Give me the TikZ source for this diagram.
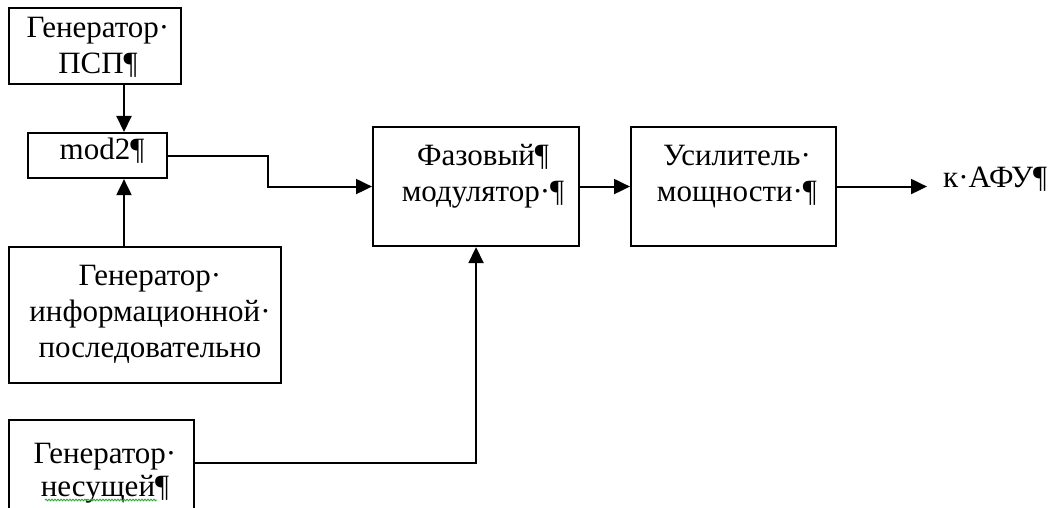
\documentclass[tikz,border=0pt]{standalone}
\usepackage{fontspec}
\setmainfont{Liberation Serif}
\usetikzlibrary{arrows.meta,decorations.pathmorphing}
\definecolor{spell}{RGB}{40,165,50}
\begin{document}
\begin{tikzpicture}[x=1pt,y=-1pt,
  blk/.style={draw, line width=2.1pt, inner sep=0pt, anchor=north west},
  lbl/.style={inner sep=0pt, anchor=base, align=center, font=\fontsize{31}{36}\selectfont},
  wire/.style={line width=2pt},
  arr/.style={wire, -{Triangle[length=16pt,width=15pt]}},
]
\useasboundingbox (0,0) rectangle (1053,508);

% blocks
\node[blk, minimum width=172pt, minimum height=76pt]  (psp)   at (8,7)    {};
\node[blk, minimum width=139pt, minimum height=45pt]  (mod)   at (27,132) {};
\node[blk, minimum width=272pt, minimum height=136pt] (info)  at (8,246)  {};
\node[blk, minimum width=185pt, minimum height=100pt] (carr)  at (8,419)  {};
\node[blk, minimum width=206pt, minimum height=119pt] (phase) at (372,126) {};
\node[blk, minimum width=205pt, minimum height=119pt] (amp)   at (630,126) {};

% labels (anchored on the baseline of their last line)
\node[lbl] (psp-t)   at (98,74)   {Генератор·\\ПСП¶};
\node[lbl] (mod-t)   at (102,160) {mod2¶};
\node[lbl] (info-t)  at (150,357) {Генератор·\\информационной·\\последовательно};
\node[lbl, font=\fontsize{31}{33}\selectfont] (carr-t) at (105,496) {Генератор·\\несущей¶};
\node[lbl] (phase-t) at (483,202) {Фазовый¶\\модулятор·¶};
\node[lbl] (amp-t)   at (737,202) {Усилитель·\\мощности·¶};
\node[lbl, anchor=base west] (afu) at (943,188) {к·АФУ¶};

% spell-check underline
\draw[spell, line width=0.9pt, decorate,
      decoration={snake, segment length=3pt, amplitude=0.8pt}] (45,500) -- (157,500);

% connections
\coordinate (bus) at (124,0);
\coordinate (jog) at (268,0);
\draw[arr] (psp.south -| bus) -- (mod.north -| bus);
\draw[arr] (info.north -| bus) -- (mod.south -| bus);
\draw[arr] (mod.east) -- (mod.east -| jog) -- (jog |- phase.west) -- (phase.west);
\draw[arr] ([yshift=-44pt]carr.north east) -| (phase.south);
\draw[arr] (phase.east) -- (amp.west);
\draw[arr, shorten >=16pt] (amp.east) -- (amp.east -| afu.west);
\end{tikzpicture}
\end{document}
